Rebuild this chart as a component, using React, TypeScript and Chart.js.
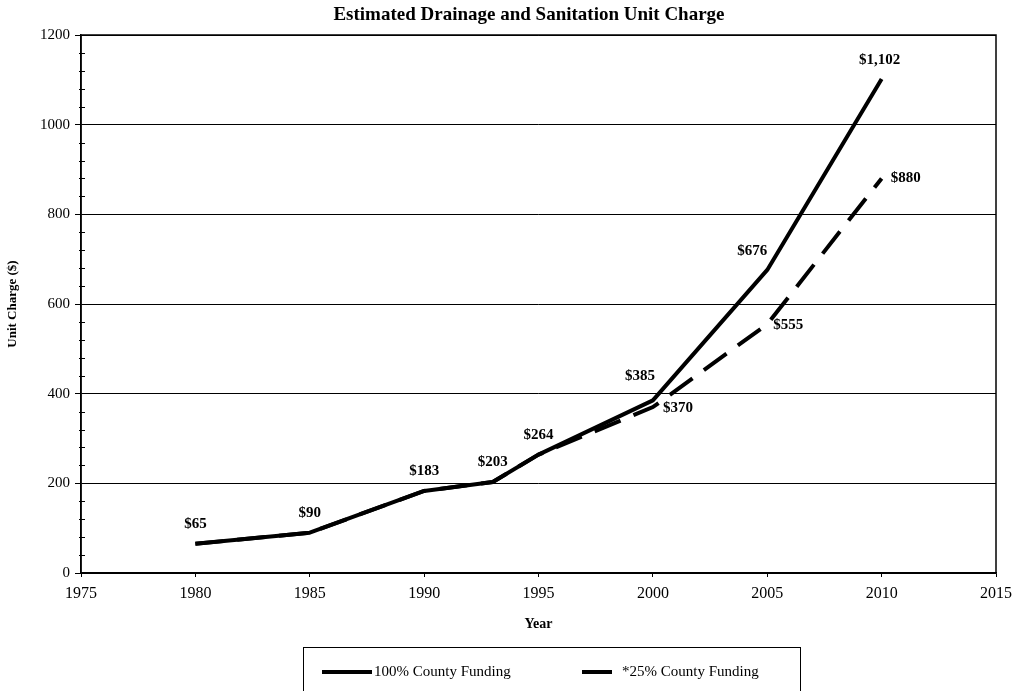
import React, { useEffect, useRef } from "react";
import { Chart, registerables } from "chart.js";

Chart.register(...registerables);

// ---------- data ----------
const TITLE = "Estimated Drainage and Sanitation Unit Charge";
const X_TITLE = "Year";
const Y_TITLE = "Unit Charge ($)";
const seriesNames = ["100% County Funding", "*25% County Funding"];
const years = [1980, 1985, 1990, 1993, 1995, 2000, 2005, 2010];
const fullFunding = [65, 90, 183, 203, 264, 385, 676, 1102];
const partialFunding = [65, 90, 183, 203, 264, 370, 555, 880];
const fullLabelIdx = [0, 1, 2, 3, 4, 5, 6, 7];
const partialLabelIdx = [5, 6, 7];
const xMin = 1975;
const xMax = 2015;
const xStep = 5;
const yMin = 0;
const yMax = 1200;
const yStep = 200;
const yMinorStep = 40;

// ---------- styling ----------
const SERIF = '"Liberation Serif", "Times New Roman", serif';
const fullLabelShift = [
  [0, -20], [0, -20], [0, -20], [0, -20], [0, -20], [-13, -24], [-15, -19], [-2, -19],
];
const partialLabelShift = [[10, 1], [6, 1], [9, 0]];

const fmt = (v: number) => "$" + v.toLocaleString("en-US");

const decorPlugin = {
  id: "decor",
  afterDatasetsDraw(chart: any) {
    const { ctx } = chart;
    ctx.save();
    ctx.fillStyle = "#000";
    ctx.font = `bold 15px ${SERIF}`;
    ctx.textBaseline = "middle";
    const m0 = chart.getDatasetMeta(0);
    fullLabelIdx.forEach((idx, k) => {
      const p = m0.data[idx];
      ctx.textAlign = "center";
      ctx.fillText(fmt(fullFunding[idx]), p.x + fullLabelShift[k][0], p.y + fullLabelShift[k][1]);
    });
    const m1 = chart.getDatasetMeta(1);
    partialLabelIdx.forEach((idx, k) => {
      const p = m1.data[idx];
      ctx.textAlign = "left";
      ctx.fillText(fmt(partialFunding[idx]), p.x + partialLabelShift[k][0], p.y + partialLabelShift[k][1]);
    });
    ctx.restore();
  },
  afterDraw(chart: any) {
    const { ctx, chartArea: a, scales } = chart;
    ctx.save();
    // plot border
    ctx.strokeStyle = "#000";
    ctx.lineWidth = 1.5;
    ctx.strokeRect(a.left, a.top, a.right - a.left, a.bottom - a.top);
    // minor ticks on y axis
    ctx.lineWidth = 1;
    for (let v = yMin + yMinorStep; v < yMax; v += yMinorStep) {
      if (v % yStep === 0) continue;
      const py = Math.round(scales.y.getPixelForValue(v)) + 0.5;
      ctx.beginPath();
      ctx.moveTo(a.left - 2, py);
      ctx.lineTo(a.left + 4, py);
      ctx.stroke();
    }
    // title
    ctx.fillStyle = "#000";
    ctx.font = `bold 19px ${SERIF}`;
    ctx.textAlign = "center";
    ctx.textBaseline = "middle";
    ctx.fillText(TITLE, 529, 15);
    // legend
    ctx.lineWidth = 1;
    ctx.strokeRect(303.5, 647.5, 497, 60);
    ctx.lineWidth = 4;
    ctx.beginPath();
    ctx.moveTo(322, 672);
    ctx.lineTo(372, 672);
    ctx.stroke();
    ctx.beginPath();
    ctx.moveTo(582, 672);
    ctx.lineTo(612, 672);
    ctx.stroke();
    ctx.font = `15px ${SERIF}`;
    ctx.textAlign = "left";
    ctx.fillText(seriesNames[0], 374, 672);
    ctx.fillText(seriesNames[1], 622, 672);
    ctx.restore();
  },
};

export default function App() {
  const ref = useRef<HTMLCanvasElement>(null);
  useEffect(() => {
    if (!ref.current) return;
    const chart = new Chart(ref.current, {
      type: "line",
      data: {
        datasets: [
          {
            label: seriesNames[0],
            data: years.map((x, i) => ({ x, y: fullFunding[i] })),
            borderColor: "#000",
            backgroundColor: "#000",
            borderWidth: 4,
            pointRadius: 0,
            tension: 0,
            borderJoinStyle: "round",
          },
          {
            label: seriesNames[1],
            data: years.map((x, i) => ({ x, y: partialFunding[i] })),
            borderColor: "#000",
            backgroundColor: "#000",
            borderWidth: 4,
            borderDash: [28, 14],
            pointRadius: 0,
            tension: 0,
          },
        ],
      },
      options: {
        animation: false,
        responsive: false,
        layout: { padding: { left: 0, right: 20, top: 35, bottom: 54 } },
        plugins: { legend: { display: false }, title: { display: false }, tooltip: { enabled: false } },
        scales: {
          x: {
            type: "linear",
            min: xMin,
            max: xMax,
            ticks: {
              stepSize: xStep,
              color: "#000",
              font: { family: SERIF, size: 16 },
              padding: 7,
              maxRotation: 0,
              callback: (v: any) => String(v),
            },
            grid: { drawOnChartArea: false, drawTicks: true, tickLength: 4, color: "#000" },
            border: { display: true, color: "#000", width: 1.5 },
            title: {
              display: true,
              text: X_TITLE,
              color: "#000",
              font: { family: SERIF, size: 14, weight: "bold" },
              padding: { top: 4, bottom: 4 },
            },
            afterFit: (s: any) => {
              s.height = 64;
              s.paddingLeft = 0;
              s.paddingRight = 0;
            },
          },
          y: {
            min: yMin,
            max: yMax,
            ticks: {
              stepSize: yStep,
              color: "#000",
              font: { family: SERIF, size: 15 },
              padding: 5,
              callback: (v: any) => String(v),
            },
            grid: { color: "#000", lineWidth: 1, tickLength: 6, drawTicks: true },
            border: { display: true, color: "#000", width: 1.5 },
            title: {
              display: true,
              text: Y_TITLE,
              color: "#000",
              font: { family: SERIF, size: 13, weight: "bold" },
              padding: { top: 5, bottom: 4 },
            },
            afterFit: (s: any) => {
              s.width = 81;
              s.paddingTop = 0;
              s.paddingBottom = 0;
            },
          },
        },
      },
      plugins: [decorPlugin],
    } as any);
    return () => chart.destroy();
  }, []);
  return (
    <div style={{ position: "absolute", left: 0, top: 0, width: 1016, height: 691, background: "#fff" }}>
      <canvas ref={ref} width={1016} height={691} style={{ display: "block" }} />
    </div>
  );
}
